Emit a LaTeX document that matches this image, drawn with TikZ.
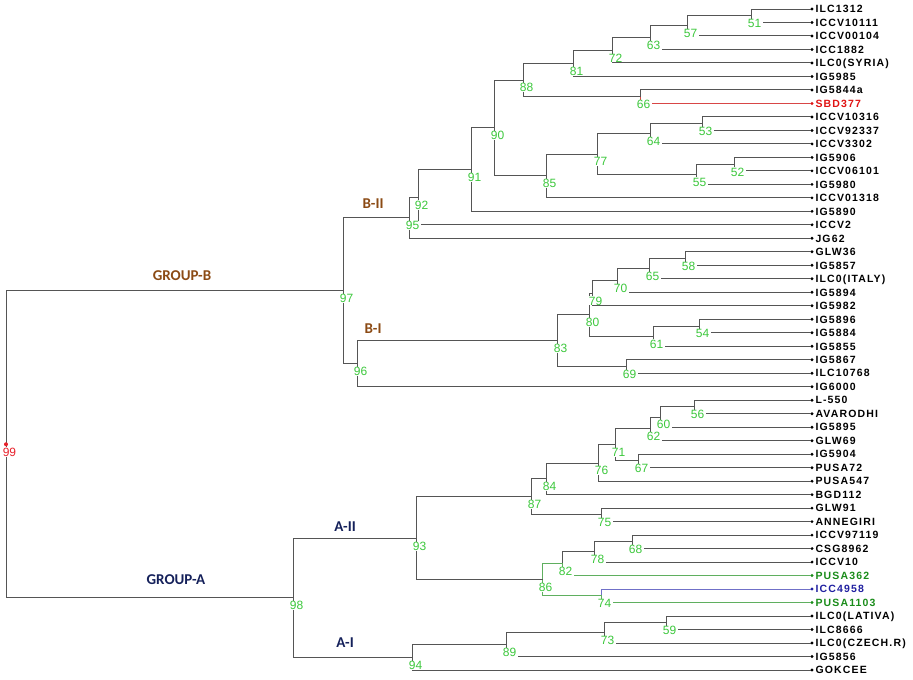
\documentclass[tikz,border=0pt]{standalone}
\usepackage{fontspec}
\setmainfont{Liberation Sans}
\newfontfamily\leaffont[LetterSpace=11]{Liberation Sans}
\newfontfamily\grpfont{Carlito}

\definecolor{linegray}{RGB}{85,85,85}
\definecolor{bsgreen}{RGB}{60,200,60}
\definecolor{rootred}{RGB}{232,32,42}
\definecolor{markred}{RGB}{224,20,20}
\definecolor{redline}{RGB}{216,70,70}
\definecolor{markgreen}{RGB}{26,140,26}
\definecolor{greenline}{RGB}{95,175,95}
\definecolor{markblue}{RGB}{32,32,160}
\definecolor{blueline}{RGB}{112,112,200}
\definecolor{groupB}{RGB}{139,74,20}
\definecolor{groupA}{RGB}{20,32,90}

\tikzset{
  elbow/.style   = {draw=linegray, line width=1pt, line cap=rect,
                    to path={|- (\tikztotarget)}},
  dot/.style     = {circle, fill=black, inner sep=0pt, minimum size=3.2pt},
  leaf/.style    = {anchor=west, inner sep=0pt, xshift=1.5pt,
                    font=\leaffont\bfseries\fontsize{10.5}{12}\selectfont,
                    text height=7.5pt, text depth=0pt},
  boot/.style    = {fill=white, inner xsep=1.5pt, inner ysep=0.3pt,
                    text=bsgreen, font=\fontsize{12}{12}\selectfont,
                    anchor=north, xshift=3.5pt, yshift=-3pt},
  grp/.style     = {font=\grpfont\bfseries\fontsize{15}{15}\selectfont},
  grpB/.style    = {grp, text=groupB},
  grpA/.style    = {grp, text=groupA}
}

\begin{document}
\begin{tikzpicture}[x=1pt, y=-1pt]
\useasboundingbox (0,0) rectangle (913,680);

% accessions
\node[dot] (l1) at (812,9.00) {};   \node[leaf] (t1) at (l1.east) {ILC1312};
\node[dot] (l2) at (812,22.49) {};  \node[leaf] (t2) at (l2.east) {ICCV10111};
\node[dot] (l3) at (812,35.98) {};  \node[leaf] (t3) at (l3.east) {ICCV00104};
\node[dot] (l4) at (812,49.47) {};  \node[leaf] (t4) at (l4.east) {ICC1882};
\node[dot] (l5) at (812,62.96) {};  \node[leaf] (t5) at (l5.east) {ILC0(SYRIA)};
\node[dot] (l6) at (812,76.45) {};  \node[leaf] (t6) at (l6.east) {IG5985};
\node[dot] (l7) at (812,89.94) {};  \node[leaf] (t7) at (l7.east) {IG5844a};
\node[dot, fill=markred] (l8) at (812,103.43) {};
\node[leaf, text=markred] (t8) at (l8.east) {SBD377};
\node[dot] (l9) at (812,116.92) {};  \node[leaf] (t9) at (l9.east) {ICCV10316};
\node[dot] (l10) at (812,130.41) {}; \node[leaf] (t10) at (l10.east) {ICCV92337};
\node[dot] (l11) at (812,143.90) {}; \node[leaf] (t11) at (l11.east) {ICCV3302};
\node[dot] (l12) at (812,157.39) {}; \node[leaf] (t12) at (l12.east) {IG5906};
\node[dot] (l13) at (812,170.88) {}; \node[leaf] (t13) at (l13.east) {ICCV06101};
\node[dot] (l14) at (812,184.37) {}; \node[leaf] (t14) at (l14.east) {IG5980};
\node[dot] (l15) at (812,197.86) {}; \node[leaf] (t15) at (l15.east) {ICCV01318};
\node[dot] (l16) at (812,211.35) {}; \node[leaf] (t16) at (l16.east) {IG5890};
\node[dot] (l17) at (812,224.84) {}; \node[leaf] (t17) at (l17.east) {ICCV2};
\node[dot] (l18) at (812,238.33) {}; \node[leaf] (t18) at (l18.east) {JG62};
\node[dot] (l19) at (812,251.82) {}; \node[leaf] (t19) at (l19.east) {GLW36};
\node[dot] (l20) at (812,265.31) {}; \node[leaf] (t20) at (l20.east) {IG5857};
\node[dot] (l21) at (812,278.80) {}; \node[leaf] (t21) at (l21.east) {ILC0(ITALY)};
\node[dot] (l22) at (812,292.29) {}; \node[leaf] (t22) at (l22.east) {IG5894};
\node[dot] (l23) at (812,305.78) {}; \node[leaf] (t23) at (l23.east) {IG5982};
\node[dot] (l24) at (812,319.27) {}; \node[leaf] (t24) at (l24.east) {IG5896};
\node[dot] (l25) at (812,332.76) {}; \node[leaf] (t25) at (l25.east) {IG5884};
\node[dot] (l26) at (812,346.25) {}; \node[leaf] (t26) at (l26.east) {IG5855};
\node[dot] (l27) at (812,359.74) {}; \node[leaf] (t27) at (l27.east) {IG5867};
\node[dot] (l28) at (812,373.23) {}; \node[leaf] (t28) at (l28.east) {ILC10768};
\node[dot] (l29) at (812,386.72) {}; \node[leaf] (t29) at (l29.east) {IG6000};
\node[dot] (l30) at (812,400.21) {}; \node[leaf] (t30) at (l30.east) {L-550};
\node[dot] (l31) at (812,413.70) {}; \node[leaf] (t31) at (l31.east) {AVARODHI};
\node[dot] (l32) at (812,427.19) {}; \node[leaf] (t32) at (l32.east) {IG5895};
\node[dot] (l33) at (812,440.68) {}; \node[leaf] (t33) at (l33.east) {GLW69};
\node[dot] (l34) at (812,454.17) {}; \node[leaf] (t34) at (l34.east) {IG5904};
\node[dot] (l35) at (812,467.66) {}; \node[leaf] (t35) at (l35.east) {PUSA72};
\node[dot] (l36) at (812,481.15) {}; \node[leaf] (t36) at (l36.east) {PUSA547};
\node[dot] (l37) at (812,494.64) {}; \node[leaf] (t37) at (l37.east) {BGD112};
\node[dot] (l38) at (812,508.13) {}; \node[leaf] (t38) at (l38.east) {GLW91};
\node[dot] (l39) at (812,521.62) {}; \node[leaf] (t39) at (l39.east) {ANNEGIRI};
\node[dot] (l40) at (812,535.11) {}; \node[leaf] (t40) at (l40.east) {ICCV97119};
\node[dot] (l41) at (812,548.60) {}; \node[leaf] (t41) at (l41.east) {CSG8962};
\node[dot] (l42) at (812,562.09) {}; \node[leaf] (t42) at (l42.east) {ICCV10};
\node[dot, fill=markgreen] (l43) at (812,575.58) {};
\node[leaf, text=markgreen] (t43) at (l43.east) {PUSA362};
\node[dot, fill=markblue] (l44) at (812,589.07) {};
\node[leaf, text=markblue] (t44) at (l44.east) {ICC4958};
\node[dot, fill=markgreen] (l45) at (812,602.56) {};
\node[leaf, text=markgreen] (t45) at (l45.east) {PUSA1103};
\node[dot] (l46) at (812,616.05) {}; \node[leaf] (t46) at (l46.east) {ILC0(LATIVA)};
\node[dot] (l47) at (812,629.54) {}; \node[leaf] (t47) at (l47.east) {ILC8666};
\node[dot] (l48) at (812,643.03) {}; \node[leaf] (t48) at (l48.east) {ILC0(CZECH.R)};
\node[dot] (l49) at (812,656.52) {}; \node[leaf] (t49) at (l49.east) {IG5856};
\node[dot] (l50) at (812,670.01) {}; \node[leaf] (t50) at (l50.east) {GOKCEE};

% internal nodes
\coordinate (n51) at (751,15.75);
\coordinate (n57) at (687,25.86);
\coordinate (n63) at (650,37.67);
\coordinate (n72) at (612,50.31);
\coordinate (n81) at (573,63.38);
\coordinate (n66) at (640,96.69);
\coordinate (n88) at (523,80.03);
\coordinate (n53) at (702,123.67);
\coordinate (n64) at (650,133.78);
\coordinate (n52) at (734,164.13);
\coordinate (n55) at (696,174.25);
\coordinate (n77) at (597,154.02);
\coordinate (n85) at (546,175.94);
\coordinate (n90) at (494,127.99);
\coordinate (n91) at (471,169.67);
\coordinate (n92) at (418,197.25);
\coordinate (n95) at (409,217.79);
\coordinate (n58) at (685,258.57);
\coordinate (n65) at (649,268.68);
\coordinate (n70) at (617,280.49);
\coordinate (n79) at (592,293.13);
\coordinate (n54) at (699,326.02);
\coordinate (n61) at (653,336.13);
\coordinate (n80) at (589,314.63);
\coordinate (n69) at (626,366.49);
\coordinate (n83) at (557,340.56);
\coordinate (n96) at (357,363.64);
\coordinate (n97) at (343,290.71);
\coordinate (n56) at (694,406.96);
\coordinate (n60) at (660,417.07);
\coordinate (n62) at (650,428.88);
\coordinate (n67) at (638,460.91);
\coordinate (n71) at (615,444.90);
\coordinate (n76) at (598,463.02);
\coordinate (n84) at (546,478.83);
\coordinate (n75) at (601,514.88);
\coordinate (n87) at (531,496.85);
\coordinate (n68) at (632,541.86);
\coordinate (n78) at (594,551.97);
\coordinate (n82) at (562,563.78);
\coordinate (n74) at (601,595.81);
\coordinate (n86) at (542,579.80);
\coordinate (n93) at (416,538.32);
\coordinate (n59) at (666,622.80);
\coordinate (n73) at (604,632.91);
\coordinate (n89) at (506,644.72);
\coordinate (n94) at (412,657.36);
\coordinate (n98) at (293,597.84);
\coordinate (n99) at (6,444.28);

% branches
\path (n51) edge[elbow] (l1) edge[elbow] (l2);
\path (n57) edge[elbow] (n51) edge[elbow] (l3);
\path (n63) edge[elbow] (n57) edge[elbow] (l4);
\path (n72) edge[elbow] (n63) edge[elbow] (l5);
\path (n81) edge[elbow] (n72) edge[elbow] (l6);
\path (n66) edge[elbow] (l7) edge[elbow, draw=redline] (l8);
\path (n88) edge[elbow] (n81) edge[elbow] (n66);
\path (n53) edge[elbow] (l9) edge[elbow] (l10);
\path (n64) edge[elbow] (n53) edge[elbow] (l11);
\path (n52) edge[elbow] (l12) edge[elbow] (l13);
\path (n55) edge[elbow] (n52) edge[elbow] (l14);
\path (n77) edge[elbow] (n64) edge[elbow] (n55);
\path (n85) edge[elbow] (n77) edge[elbow] (l15);
\path (n90) edge[elbow] (n88) edge[elbow] (n85);
\path (n91) edge[elbow] (n90) edge[elbow] (l16);
\path (n92) edge[elbow] (n91) edge[elbow] (l17);
\path (n95) edge[elbow] (n92) edge[elbow] (l18);
\path (n58) edge[elbow] (l19) edge[elbow] (l20);
\path (n65) edge[elbow] (n58) edge[elbow] (l21);
\path (n70) edge[elbow] (n65) edge[elbow] (l22);
\path (n79) edge[elbow] (n70) edge[elbow] (l23);
\path (n54) edge[elbow] (l24) edge[elbow] (l25);
\path (n61) edge[elbow] (n54) edge[elbow] (l26);
\path (n80) edge[elbow] (n79) edge[elbow] (n61);
\path (n69) edge[elbow] (l27) edge[elbow] (l28);
\path (n83) edge[elbow] (n80) edge[elbow] (n69);
\path (n96) edge[elbow] (n83) edge[elbow] (l29);
\path (n97) edge[elbow] (n95) edge[elbow] (n96);
\path (n56) edge[elbow] (l30) edge[elbow] (l31);
\path (n60) edge[elbow] (n56) edge[elbow] (l32);
\path (n62) edge[elbow] (n60) edge[elbow] (l33);
\path (n67) edge[elbow] (l34) edge[elbow] (l35);
\path (n71) edge[elbow] (n62) edge[elbow] (n67);
\path (n76) edge[elbow] (n71) edge[elbow] (l36);
\path (n84) edge[elbow] (n76) edge[elbow] (l37);
\path (n75) edge[elbow] (l38) edge[elbow] (l39);
\path (n87) edge[elbow] (n84) edge[elbow] (n75);
\path (n68) edge[elbow] (l40) edge[elbow] (l41);
\path (n78) edge[elbow] (n68) edge[elbow] (l42);
\path (n82) edge[elbow] (n78) edge[elbow, draw=greenline] (l43);
\path (n74) edge[elbow, draw=blueline] (l44) edge[elbow, draw=greenline] (l45);
\path (n86) edge[elbow, draw=greenline] (n82) edge[elbow, draw=greenline] (n74);
\path (n93) edge[elbow] (n87) edge[elbow] (n86);
\path (n59) edge[elbow] (l46) edge[elbow] (l47);
\path (n73) edge[elbow] (n59) edge[elbow] (l48);
\path (n89) edge[elbow] (n73) edge[elbow] (l49);
\path (n94) edge[elbow] (n89) edge[elbow] (l50);
\path (n98) edge[elbow] (n93) edge[elbow] (n94);
\path (n99) edge[elbow] (n97) edge[elbow] (n98);

% bootstrap values
\node[boot] (b51) at (n51) {51};
\node[boot] (b57) at (n57) {57};
\node[boot] (b63) at (n63) {63};
\node[boot] (b72) at (n72) {72};
\node[boot] (b81) at (n81) {81};
\node[boot] (b66) at (n66) {66};
\node[boot] (b88) at (n88) {88};
\node[boot] (b53) at (n53) {53};
\node[boot] (b64) at (n64) {64};
\node[boot] (b52) at (n52) {52};
\node[boot] (b55) at (n55) {55};
\node[boot] (b77) at (n77) {77};
\node[boot] (b85) at (n85) {85};
\node[boot] (b90) at (n90) {90};
\node[boot] (b91) at (n91) {91};
\node[boot] (b92) at (n92) {92};
\node[boot] (b95) at (n95) {95};
\node[boot] (b58) at (n58) {58};
\node[boot] (b65) at (n65) {65};
\node[boot] (b70) at (n70) {70};
\node[boot] (b79) at (n79) {79};
\node[boot] (b54) at (n54) {54};
\node[boot] (b61) at (n61) {61};
\node[boot] (b80) at (n80) {80};
\node[boot] (b69) at (n69) {69};
\node[boot] (b83) at (n83) {83};
\node[boot] (b96) at (n96) {96};
\node[boot] (b97) at (n97) {97};
\node[boot] (b56) at (n56) {56};
\node[boot] (b60) at (n60) {60};
\node[boot] (b62) at (n62) {62};
\node[boot] (b67) at (n67) {67};
\node[boot] (b71) at (n71) {71};
\node[boot] (b76) at (n76) {76};
\node[boot] (b84) at (n84) {84};
\node[boot] (b75) at (n75) {75};
\node[boot] (b87) at (n87) {87};
\node[boot] (b68) at (n68) {68};
\node[boot] (b78) at (n78) {78};
\node[boot] (b82) at (n82) {82};
\node[boot] (b74) at (n74) {74};
\node[boot] (b86) at (n86) {86};
\node[boot] (b93) at (n93) {93};
\node[boot] (b59) at (n59) {59};
\node[boot] (b73) at (n73) {73};
\node[boot] (b89) at (n89) {89};
\node[boot] (b94) at (n94) {94};
\node[boot] (b98) at (n98) {98};
\node[boot, text=rootred] (b99) at (n99) {99};
\node[dot, fill=rootred, minimum size=4pt] (root) at (n99) {};

% groups
\node[grpB] (gB)  at (182,276) {GROUP-B};
\node[grpB] (gB2) at (373,204) {B-II};
\node[grpB] (gB1) at (373,329) {B-I};
\node[grpA] (gA)  at (176,580) {GROUP-A};
\node[grpA] (gA2) at (345,527) {A-II};
\node[grpA] (gA1) at (345,643) {A-I};
\end{tikzpicture}
\end{document}
